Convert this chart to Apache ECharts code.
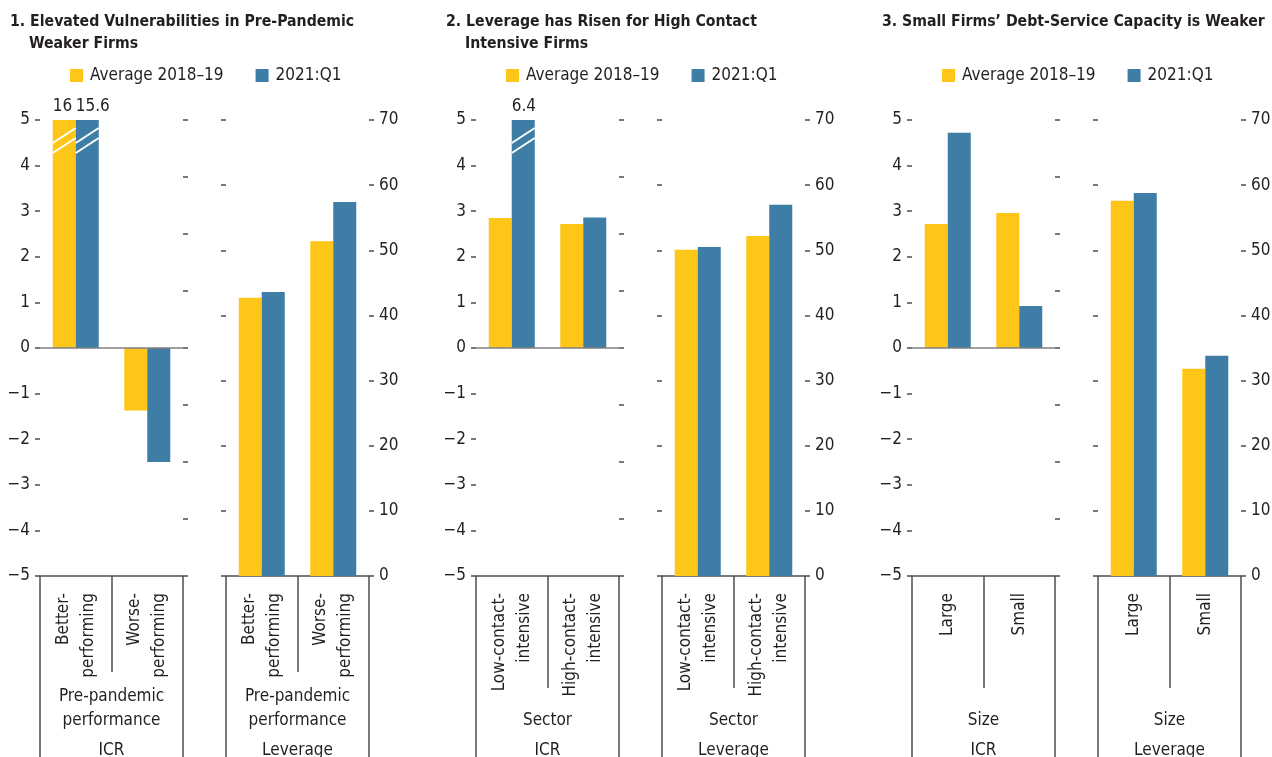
<!DOCTYPE html>
<html>
<head>
<meta charset="utf-8">
<title>Corporate vulnerabilities</title>
<script src="https://cdn.jsdelivr.net/npm/echarts@6.0.0/dist/echarts.min.js"></script>
<style>
  html, body { margin: 0; padding: 0; background: #fff; }
  #chart { width: 1272px; height: 757px; }
</style>
</head>
<body>
<div id="chart"></div>
<script>
const seriesNames = ['Average 2018–19', '2021:Q1']

const titles = [
  ['1. Elevated Vulnerabilities in Pre-Pandemic', 'Weaker Firms'],
  ['2. Leverage has Risen for High Contact', 'Intensive Firms'],
  ['3. Small Firms’ Debt-Service Capacity is Weaker', '']
]
const categories = [
  ['Better-\nperforming', 'Worse-\nperforming'],
  ['Low-contact-\nintensive', 'High-contact-\nintensive'],
  ['Large', 'Small']
]
const groupLabels = ['Pre-pandemic\nperformance', 'Sector', 'Size']
const chartNames = ['ICR', 'Leverage']

// ICR, left chart of each panel (values above 5 get a break mark)
const icrAvg = [[16, -1.37], [2.85, 2.72], [2.72, 2.96]]
const icrQ1 = [[15.6, -2.5], [6.4, 2.86], [4.72, 0.92]]
// leverage, right chart of each panel
const levAvg = [[42.7, 51.4], [50.1, 52.2], [57.6, 31.8]]
const levQ1 = [[43.6, 57.4], [50.5, 57.0], [58.8, 33.8]]

// [min, max, interval]
const icrAxis = [-5, 5, 1]
const icrRightAxis = [0, 8, 1]
const levAxis = [0, 70, 10]

const FONT = '"Liberation Sans Narrow", "Arial Narrow", "DejaVu Sans Condensed", "Liberation Sans", sans-serif'
const FS = 17
const TEXT = '#231f20'
const LINE = '#4d4d4d'
const COLORS = ['#ffc61a', '#3e7ea6']
const BAR_W = 23
const PANEL_DX = 436

const minus = (v) => (v < 0 ? '−' + Math.abs(v) : String(v))

// two white slashes across a bar that runs off the top of the axis
const renderBreak = (params, api) => {
  const c = api.coord([api.value(0), api.value(1)])
  const x0 = c[0] + (api.value(2) === 0 ? -BAR_W : 0)
  const y = c[1]
  return {
    type: 'group',
    children: [[23, 8], [33, 18]].map(([a, b]) => ({
      type: 'line',
      shape: { x1: x0, y1: y + a, x2: x0 + BAR_W, y2: y + b },
      style: { stroke: '#fff', lineWidth: 2 }
    }))
  }
}

const option = {
  animation: false,
  backgroundColor: '#fff',
  textStyle: { fontFamily: FONT },
  title: [],
  legend: [],
  grid: [],
  xAxis: [],
  yAxis: [],
  series: []
}

const valueAxis = (g, pos, range, labeled) => ({
  gridIndex: g,
  type: 'value',
  position: pos,
  min: range[0],
  max: range[1],
  interval: range[2],
  axisLine: { show: false },
  splitLine: { show: false },
  axisTick: { show: true, length: 5, lineStyle: { color: LINE, width: 1.5 } },
  axisLabel: {
    show: labeled,
    margin: 10,
    fontSize: FS,
    color: TEXT,
    fontFamily: FONT,
    formatter: minus
  }
})

for (let p = 0; p < 3; p++) {
  const dx = PANEL_DX * p
  option.title.push({
    left: 10 + dx, top: 12, padding: 0,
    text: titles[p][0],
    textStyle: { fontFamily: FONT, fontSize: 15.7, fontWeight: 'bold', color: TEXT, lineHeight: 20 }
  })
  if (titles[p][1]) {
    option.title.push({
      left: 29 + dx, top: 34, padding: 0,
      text: titles[p][1],
      textStyle: { fontFamily: FONT, fontSize: 15.7, fontWeight: 'bold', color: TEXT, lineHeight: 20 }
    })
  }
  option.legend.push({
    left: 70 + dx, top: 67, padding: 0,
    icon: 'rect', itemWidth: 13, itemHeight: 13, itemGap: 32,
    selectedMode: false,
    data: seriesNames,
    textStyle: { fontFamily: FONT, fontSize: FS, color: TEXT, padding: [0, 0, 0, 2] }
  })

  for (let c = 0; c < 2; c++) {
    const g = option.grid.length
    option.grid.push({ left: 40 + dx + c * 186, top: 120, width: 143, height: 456, outerBoundsMode: 'none' })

    const xi = option.xAxis.length
    option.xAxis.push({
      gridIndex: g, type: 'category', position: 'bottom',
      data: categories[p],
      axisLine: { onZero: false, lineStyle: { color: LINE, width: 1.5 } },
      axisTick: { show: true, length: p === 0 ? 96 : 112, lineStyle: { color: LINE, width: 1.5 } },
      axisLabel: { interval: 0, rotate: 90, margin: 17, fontSize: FS, lineHeight: 25, color: TEXT, fontFamily: FONT }
    })
    option.xAxis.push({
      gridIndex: g, type: 'category', position: 'bottom',
      data: [groupLabels[p]],
      axisLine: { show: false, onZero: false },
      axisTick: { show: true, length: 181, lineStyle: { color: LINE, width: 1.5 } },
      axisLabel: { interval: 0, margin: 157, verticalAlign: 'bottom', fontSize: FS, lineHeight: 24, color: TEXT, fontFamily: FONT },
      name: chartNames[c], nameLocation: 'middle', nameGap: 163,
      nameTextStyle: { fontSize: FS, lineHeight: 24, color: TEXT, fontFamily: FONT }
    })

    const yi = option.yAxis.length
    let yv
    if (c === 0) {
      option.yAxis.push(valueAxis(g, 'left', icrAxis, true))
      option.yAxis.push(valueAxis(g, 'right', icrRightAxis, false))
      yv = yi
    } else {
      option.yAxis.push(valueAxis(g, 'left', levAxis, false))
      option.yAxis.push(valueAxis(g, 'right', levAxis, true))
      yv = yi + 1
    }

    const top = c === 0 ? icrAxis[1] : levAxis[1]
    const sets = c === 0 ? [icrAvg[p], icrQ1[p]] : [levAvg[p], levQ1[p]]
    const breaks = []
    sets.forEach((vals, s) => {
      vals.forEach((v, i) => { if (v > top) breaks.push([i, top, s]) })
      option.series.push({
        type: 'bar',
        name: seriesNames[s],
        xAxisIndex: xi,
        yAxisIndex: yv,
        barWidth: BAR_W,
        barGap: '0%',
        itemStyle: { color: COLORS[s] },
        label: {
          show: false, position: [0, -5], align: 'left', verticalAlign: 'bottom',
          fontSize: FS, color: TEXT, fontFamily: FONT,
          formatter: (prm) => String(prm.data.raw)
        },
        data: vals.map((v) => ({ value: Math.min(v, top), raw: v, label: { show: v > top } })),
        markLine: c === 0 && s === 0 ? {
          silent: true, symbol: 'none', label: { show: false },
          lineStyle: { color: '#808080', width: 1.5, type: 'solid' },
          data: [{ yAxis: 0 }]
        } : undefined
      })
    })
    if (breaks.length) {
      option.series.push({
        type: 'custom', name: 'break', xAxisIndex: xi, yAxisIndex: yv,
        z: 5, silent: true, clip: false,
        renderItem: renderBreak,
        data: breaks
      })
    }
  }
}

const chart = echarts.init(document.getElementById('chart'))
chart.setOption(option)
window.addEventListener('resize', () => chart.resize())
</script>
</body>
</html>
